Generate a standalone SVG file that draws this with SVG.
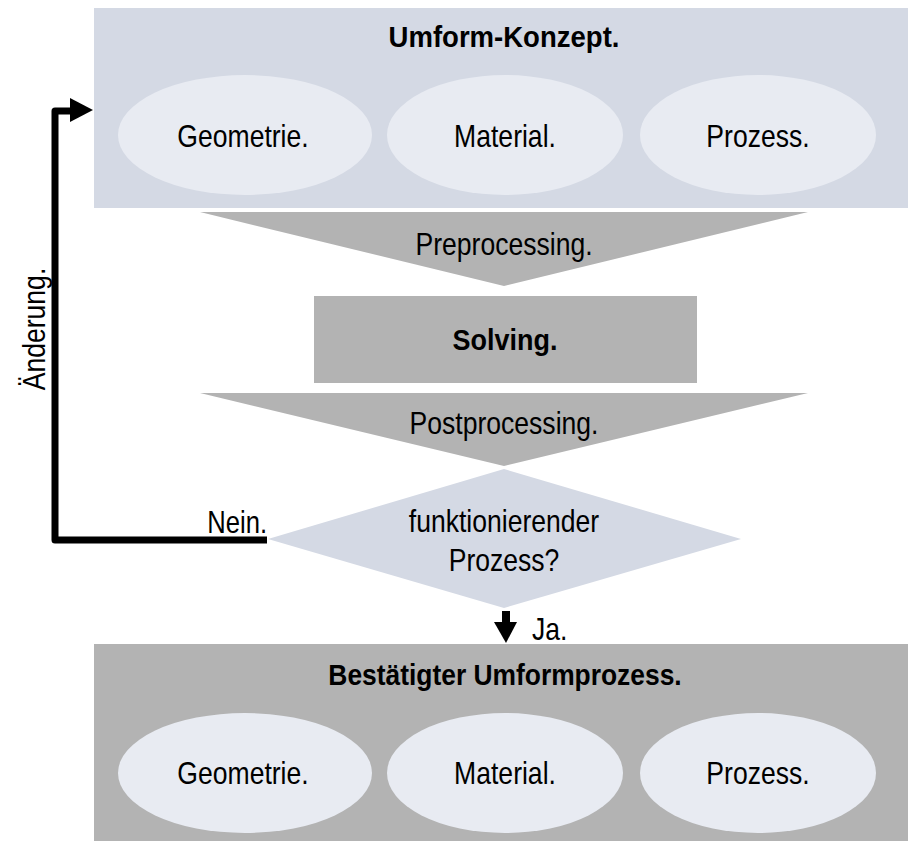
<svg xmlns="http://www.w3.org/2000/svg" width="908" height="841" viewBox="0 0 908 841">
  <defs>
    <style>
      text { font-family: "Liberation Sans", Arial, sans-serif; fill: #000; text-anchor: middle; }
      .title { font-size: 29px; font-weight: bold; }
      .lbl { font-size: 32px; }
      .start { text-anchor: start; }
      .end { text-anchor: end; }
      .panel { fill: #d4d9e4; }
      .grey { fill: #b3b3b3; }
      .oval { fill: #e8ebf2; }
      .flow { fill: none; stroke: #000; stroke-width: 7; stroke-linejoin: round; }
    </style>
  </defs>

  <!-- Konzept panel -->
  <g id="konzept">
    <rect class="panel" x="94" y="8" width="814" height="200"/>
    <text class="title" transform="translate(504,47) scale(0.95,1)">Umform-Konzept.</text>
    <ellipse class="oval" cx="245" cy="135" rx="127" ry="60"/>
    <ellipse class="oval" cx="505" cy="135" rx="118" ry="60"/>
    <ellipse class="oval" cx="758" cy="135" rx="118" ry="60"/>
    <text class="lbl" transform="translate(243,147) scale(0.83,1)">Geometrie.</text>
    <text class="lbl" transform="translate(505,147) scale(0.83,1)">Material.</text>
    <text class="lbl" transform="translate(758,147) scale(0.83,1)">Prozess.</text>
  </g>

  <!-- Preprocessing funnel -->
  <g id="preprocessing">
    <polygon class="grey" points="200,212 808,212 504,286"/>
    <text class="lbl" transform="translate(504,255) scale(0.83,1)">Preprocessing.</text>
  </g>

  <!-- Solving -->
  <g id="solving">
    <rect class="grey" x="314" y="296" width="383" height="87"/>
    <text class="title" transform="translate(505,350) scale(0.93,1)">Solving.</text>
  </g>

  <!-- Postprocessing funnel -->
  <g id="postprocessing">
    <polygon class="grey" points="200,393 808,393 504,466"/>
    <text class="lbl" transform="translate(504,434) scale(0.83,1)">Postprocessing.</text>
  </g>

  <!-- Decision -->
  <g id="entscheidung">
    <polygon class="panel" points="504,469 741,539 504,608 268,539"/>
    <text class="lbl" transform="translate(504,532) scale(0.83,1)">funktionierender</text>
    <text class="lbl" transform="translate(504,571) scale(0.83,1)">Prozess?</text>
  </g>

  <!-- Confirmed process panel -->
  <g id="bestaetigt">
    <rect class="grey" x="94" y="644" width="814" height="197"/>
    <text class="title" transform="translate(505,685) scale(0.91,1)">Bestätigter Umformprozess.</text>
    <ellipse class="oval" cx="245" cy="773" rx="127" ry="60"/>
    <ellipse class="oval" cx="505" cy="773" rx="118" ry="60"/>
    <ellipse class="oval" cx="758" cy="773" rx="118" ry="60"/>
    <text class="lbl" transform="translate(243,784) scale(0.83,1)">Geometrie.</text>
    <text class="lbl" transform="translate(505,784) scale(0.83,1)">Material.</text>
    <text class="lbl" transform="translate(758,784) scale(0.83,1)">Prozess.</text>
  </g>

  <!-- Connectors -->
  <g id="connectors">
    <polyline class="flow" points="267,540 55,540 55,111 72,111"/>
    <polygon points="70,98 93,110 70,122" fill="#000"/>
    <text class="lbl end" transform="translate(267,533) scale(0.8,1)">Nein.</text>
    <text class="lbl" transform="translate(45,329) rotate(-90) scale(0.83,1)">Änderung.</text>
    <line x1="506" y1="611" x2="506" y2="626" stroke="#000" stroke-width="8"/>
    <polygon points="494,622 517,622 506,643" fill="#000"/>
    <text class="lbl start" transform="translate(532,640) scale(0.83,1)">Ja.</text>
  </g>
</svg>
